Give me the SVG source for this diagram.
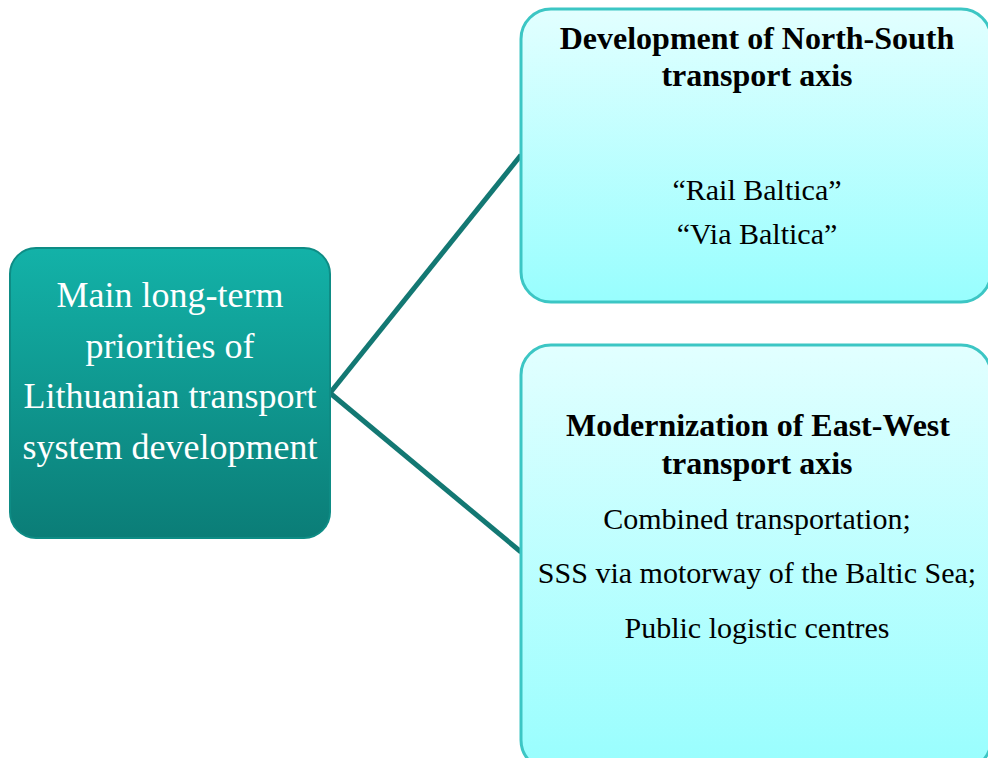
<svg xmlns="http://www.w3.org/2000/svg" width="988" height="758" viewBox="0 0 988 758">
<defs>
<linearGradient id="gMain" x1="0" y1="0" x2="0" y2="1">
<stop offset="0" stop-color="#13B2A8"/>
<stop offset="1" stop-color="#0B7D77"/>
</linearGradient>
<linearGradient id="gSub" x1="0" y1="0" x2="0" y2="1">
<stop offset="0" stop-color="#E2FFFF"/>
<stop offset="1" stop-color="#98FEFE"/>
</linearGradient>
<style>
.main{fill:url(#gMain);stroke:#0E8C85;stroke-width:2}
.sub{fill:url(#gSub);stroke:#3CC6C4;stroke-width:3}
.conn{stroke:#137873;stroke-width:5;fill:none}
.wt{font-family:"Liberation Serif","Times New Roman",serif;font-size:36px;fill:#FFFFFF;text-anchor:middle}
.hd{font-family:"Liberation Serif","Times New Roman",serif;font-size:32px;font-weight:bold;fill:#000000;text-anchor:middle}
.bd{font-family:"Liberation Serif","Times New Roman",serif;font-size:30px;fill:#000000;text-anchor:middle}
</style>
</defs>
<rect width="988" height="758" fill="#FFFFFF"/>
<g id="connectors">
<line class="conn" x1="330" y1="393" x2="521" y2="155"/>
<line class="conn" x1="330" y1="393" x2="521" y2="552"/>
</g>
<g id="main">
<rect class="main" x="10" y="248" width="320" height="290" rx="26"/>
<text class="wt" x="170" y="307">Main long-term</text>
<text class="wt" x="170" y="358">priorities of</text>
<text class="wt" x="170" y="408">Lithuanian transport</text>
<text class="wt" x="170" y="459">system development</text>
</g>
<g id="north-south">
<rect class="sub" x="521" y="9" width="470" height="293" rx="30"/>
<text class="hd" x="757" y="49">Development of North-South</text>
<text class="hd" x="757" y="86">transport axis</text>
<text class="bd" x="757" y="200">“Rail Baltica”</text>
<text class="bd" x="757" y="244">“Via Baltica”</text>
</g>
<g id="east-west">
<rect class="sub" x="521" y="345" width="470" height="425" rx="30"/>
<text class="hd" x="758" y="436">Modernization of  East-West</text>
<text class="hd" x="757" y="474">transport axis</text>
<text class="bd" x="757" y="529">Combined transportation;</text>
<text class="bd" x="757" y="583">SSS via motorway of  the Baltic Sea;</text>
<text class="bd" x="757" y="638">Public logistic centres</text>
</g>
</svg>
